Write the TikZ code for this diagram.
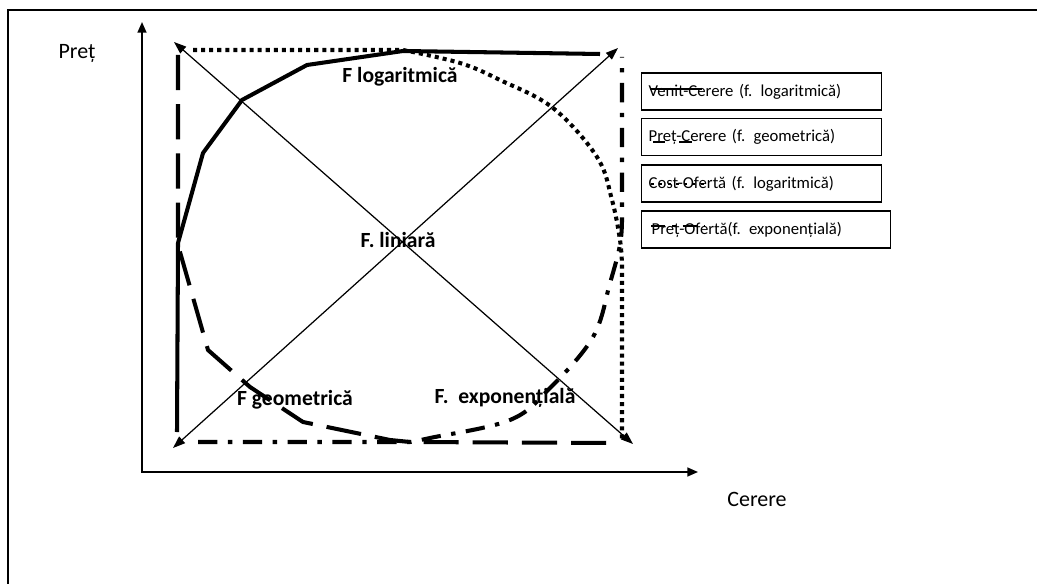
\documentclass[tikz,border=0pt]{standalone}
\usepackage{fontspec}
\setmainfont{Carlito}
\usetikzlibrary{arrows.meta}
\tikzset{
  axis/.style={line width=1pt, {Triangle[length=6pt,width=5pt]}-{Triangle[length=6pt,width=5pt]}},
  diag/.style={line width=0.7pt, {Triangle[length=7pt,width=5pt]}-{Triangle[length=7pt,width=5pt]}},
  curve/.style={line width=2.3pt, line join=round},
  solidcurve/.style={curve},
  dashcurve/.style={curve, dash pattern=on 20pt off 8pt},
  dotcurve/.style={curve, dash pattern=on 2.3pt off 2.3pt},
  dashdotcurve/.style={curve, dash pattern=on 11pt off 6pt on 2.5pt off 6pt},
  flabel/.style={font=\bfseries\fontsize{12.3}{14}\selectfont},
  axlabel/.style={font=\fontsize{12.5}{14}\selectfont},
  legbox/.style={draw, line width=0.8pt, anchor=west, inner xsep=0.14cm, minimum height=0.74cm,
    align=left, font=\fontsize{9.5}{11}\selectfont},
}
\begin{document}
\begin{tikzpicture}[x=0.02cm, y=-0.02cm]
\useasboundingbox (0,0) rectangle (1037,584);
\draw[line width=1.1pt] (8,584) -- (8,10) -- (1037,10);

\coordinate (o) at (142,472);
\coordinate (ytip) at (142,22);
\coordinate (xtip) at (698,472);
\draw[axis] (ytip) -- (o) -- (xtip);
\node[axlabel] (pret) at (77,53) {Preț};
\node[axlabel] (cerere) at (757,499) {Cerere};

\coordinate (ul) at (174,42);
\coordinate (lr) at (633,444);
\coordinate (ll) at (173,448);
\coordinate (ur) at (618,48);
\draw[diag] (ul) -- (lr);
\draw[diag] (ll) -- (ur);

\draw[solidcurve] (177,432) -- (178,243) -- (203,153) -- (242,100) -- (307,65) -- (403,51) -- (600,54);
\draw[dashcurve] (178,55) -- (178,245) -- (208,350) -- (250,387) -- (303,422) -- (390,440) -- (410,442) -- (613,443);
\draw[dotcurve] (193,50) -- (403,50) -- plot[smooth, tension=0.6] coordinates {(403,50) (460,63) (500,80) (553,108) (597,157) (612,200) (620,240) (622,265)} -- (622,440);
\draw[dashdotcurve] (198,442) -- (410,442) -- plot[smooth, tension=0.6] coordinates {(410,442) (430,438) (510,420) (550,388) (593,337) (610,283) (620,245) (622,220)} -- (622,57);

\node[flabel] (flog) at (400,77) {F logaritmică};
\node[flabel] (flin) at (398,240) {F. liniară};
\node[flabel] (fgeo) at (295,400) {F geometrică};
\node[flabel] (fexp) at (505,398) {F.\ \ exponențială};

\node[legbox, text width=4.52cm] (leg1) at (641,91.5) {Venit-Cerere (f. logaritmică)};
\node[legbox, text width=4.52cm] (leg2) at (641,137) {Preț-Cerere (f. geometrică)};
\node[legbox, text width=4.52cm] (leg3) at (641,183.5) {Cost-Ofertă (f. logaritmică)};
\node[legbox, text width=4.70cm] (leg4) at (641,229.5) {\hspace{0.06cm}Preț-Ofertă(f. exponențială)};
\draw[solidcurve, line width=1.7pt] (650,89) -- (702,89);
\draw[dashcurve, line width=1.7pt, dash pattern=on 7pt off 8pt] (653,142) -- (692,142);
\draw[dotcurve, line width=1.7pt, dash pattern=on 1.7pt off 3pt] (651,184) -- (706,184);
\draw[dashdotcurve, line width=1.7pt, dash pattern=on 8pt off 4pt on 2pt off 4pt] (651,226) -- (705,226);
\end{tikzpicture}
\end{document}
